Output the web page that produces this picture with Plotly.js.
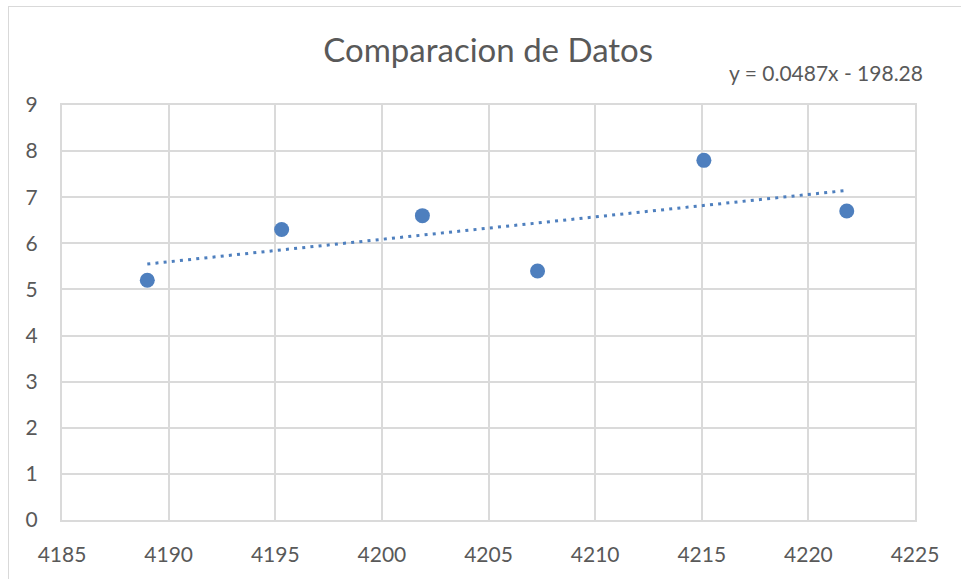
<!DOCTYPE html>
<html>
<head>
<meta charset="utf-8">
<script src="https://cdn.plot.ly/plotly-3.0.1.min.js"></script>
<style>
  html, body { margin: 0; padding: 0; background: #ffffff; overflow: hidden; }
  #chart { width: 961px; height: 579px; }
  #frame { position: absolute; left: 8px; top: 6px; width: 2000px; height: 2000px;
           border: 1px solid #d9d9d9; pointer-events: none; }
</style>
</head>
<body>
<div id="chart"></div>
<div id="frame"></div>
<script>
// Data
const xValues = [4189.0, 4195.3, 4201.9, 4207.3, 4215.1, 4221.8];
const yValues = [5.2, 6.3, 6.6, 5.4, 7.8, 6.7];
const chartTitle = 'Comparacion de Datos';
const equationText = 'y = 0.0487x - 198.28';
const xTicks = [4185, 4190, 4195, 4200, 4205, 4210, 4215, 4220, 4225];
const yTicks = [0, 1, 2, 3, 4, 5, 6, 7, 8, 9];

// Linear least-squares trendline from the data
const n = xValues.length;
const mx = xValues.reduce((a, b) => a + b, 0) / n;
const my = yValues.reduce((a, b) => a + b, 0) / n;
let sxy = 0, sxx = 0;
for (let i = 0; i < n; i++) {
  sxy += (xValues[i] - mx) * (yValues[i] - my);
  sxx += (xValues[i] - mx) * (xValues[i] - mx);
}
const slope = sxy / sxx;
const intercept = my - slope * mx;
const trendX = [Math.min(...xValues), Math.max(...xValues)];
const trendY = trendX.map(x => slope * x + intercept);

const blue = '#4e7fbe';
const textColor = '#595959';
const gridColor = '#dadada';
const fontFamily = 'Lato, "Open Sans", sans-serif';

const traces = [
  {
    x: trendX, y: trendY, type: 'scatter', mode: 'lines',
    line: { color: blue, width: 3, dash: '3px,5.2px' },
    hoverinfo: 'skip', showlegend: false
  },
  {
    x: xValues, y: yValues, type: 'scatter', mode: 'markers',
    marker: { color: blue, size: 15, line: { width: 0 } },
    showlegend: false
  }
];

const layout = {
  width: 961, height: 579,
  margin: { l: 62, r: 46, t: 105, b: 59 },
  paper_bgcolor: '#ffffff', plot_bgcolor: '#ffffff',
  font: { family: fontFamily, color: textColor },
  title: {
    text: chartTitle,
    font: { family: fontFamily, size: 33, color: textColor },
    x: 0.508, xanchor: 'center', y: 0.913, yanchor: 'middle'
  },
  xaxis: {
    range: [4185, 4225], tickvals: xTicks, ticktext: xTicks.map(String),
    showgrid: true, gridcolor: gridColor, gridwidth: 2,
    showline: true, mirror: true, linecolor: gridColor, linewidth: 2,
    zeroline: false,
    ticks: 'outside', ticklen: 15, tickcolor: 'rgba(0,0,0,0)',
    tickfont: { family: fontFamily, size: 21, color: textColor },
    fixedrange: true
  },
  yaxis: {
    range: [0, 9], tickvals: yTicks, ticktext: yTicks.map(String),
    showgrid: true, gridcolor: gridColor, gridwidth: 2,
    showline: true, mirror: true, linecolor: gridColor, linewidth: 2,
    zeroline: false,
    ticks: 'outside', ticklen: 18, tickcolor: 'rgba(0,0,0,0)',
    tickfont: { family: fontFamily, size: 21, color: textColor },
    fixedrange: true
  },
  annotations: [{
    text: equationText, showarrow: false,
    xref: 'paper', yref: 'paper',
    x: (727 - 62) / 853, xanchor: 'left',
    y: (520 - 72) / 415, yanchor: 'middle',
    font: { family: fontFamily, size: 21, color: textColor }
  }],
  hovermode: false
};

Plotly.newPlot('chart', traces, layout, { displayModeBar: false, staticPlot: true });
</script>
</body>
</html>
